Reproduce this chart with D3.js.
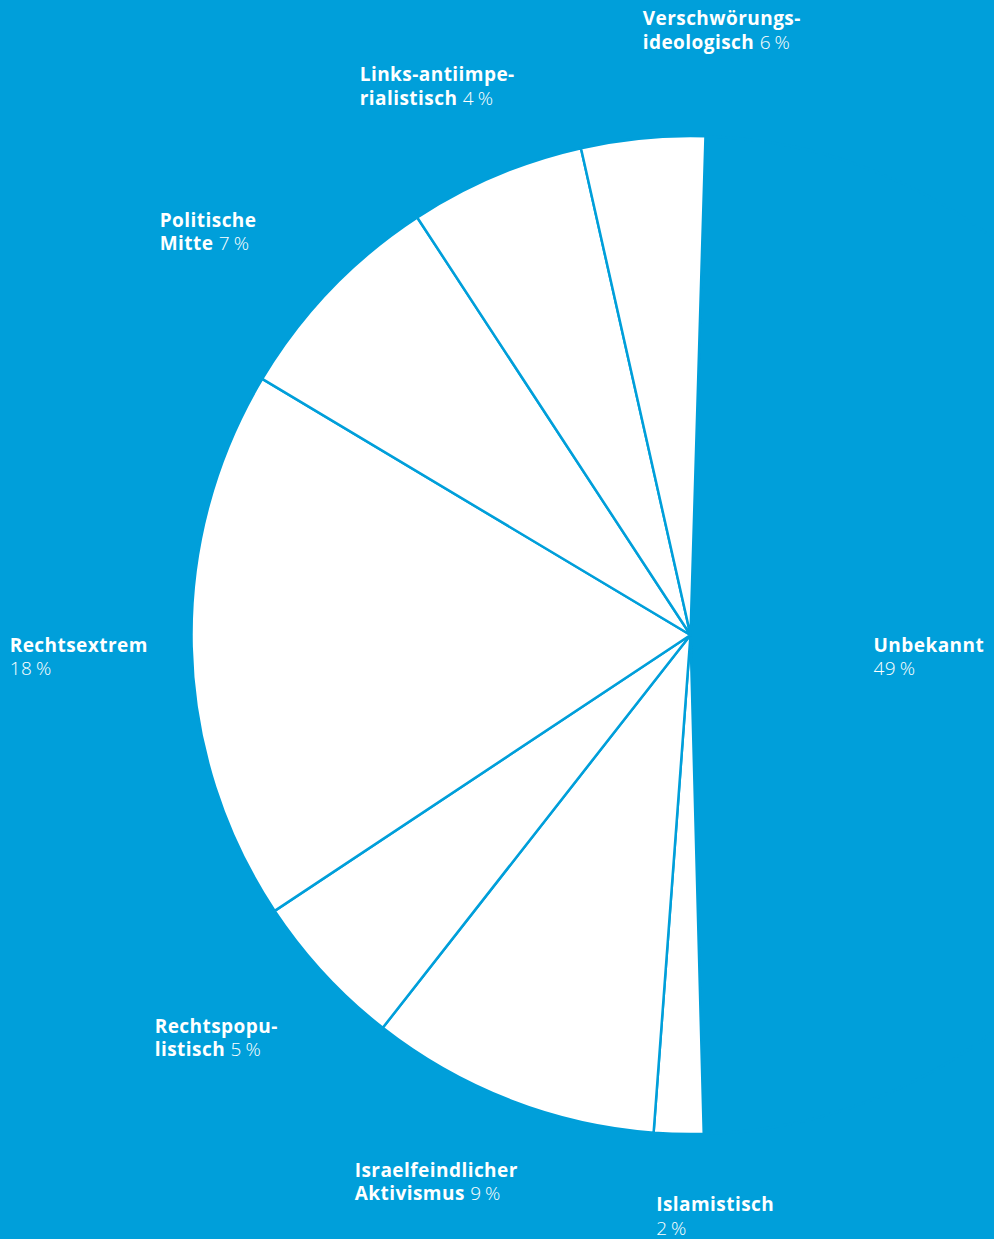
<!DOCTYPE html>
<html>
<head>
<meta charset="utf-8"/>
<title>Pie</title>
<script src="https://d3js.org/d3.v7.min.js"></script>
<style>
  html, body { margin: 0; padding: 0; background: #009fda; }
  text { font-family: "Open Sans", "Noto Sans", sans-serif; fill: #fff; font-size: 19px; letter-spacing: 0.45px; }
  .nm { font-weight: 700; }
  .pc { font-weight: 300; }
</style>
</head>
<body>
<div id="chart"></div>
<script>
// slices in drawing order, clockwise from just right of 12 o'clock
var categories = ["Unbekannt", "Islamistisch", "Israelfeindlicher Aktivismus", "Rechtspopulistisch",
                  "Rechtsextrem", "Politische Mitte", "Links-antiimperialistisch", "Verschwörungsideologisch"];
// arc sizes
var shares = [49.1, 1.6, 9.4, 5.1, 17.9, 7.2, 5.7, 4.0];
// percent values as printed in the labels
var pctLabels = ["49", "2", "9", "5", "18", "7", "4", "6"];
// label text broken the way the picture breaks it
var labelLines = [["Unbekannt"], ["Islamistisch"], ["Israelfeindlicher", "Aktivismus"], ["Rechtspopu-", "listisch"],
                  ["Rechtsextrem"], ["Politische", "Mitte"], ["Links-antiimpe-", "rialistisch"], ["Verschwörungs-", "ideologisch"]];

// layout
var width = 994, height = 1239;
var cx = 690.5, cy = 635, radius = 499;
var startDeg = 1.72;
var blue = "#009fda";
// label anchor (left edge, first baseline) relative to pie centre
var labelOffset = [[183, 16.7], [-34.3, 576.2], [-335.8, 541.7], [-535.8, 397.7],
                   [-680.8, 16.7], [-530.8, -408.3], [-330.8, -554], [-47.8, -610]];
var lineH = 23.5;

var svg = d3.select("#chart").append("svg")
    .attr("width", width)
    .attr("height", height);

svg.append("rect").attr("width", width).attr("height", height).attr("fill", blue);

var start = startDeg * Math.PI / 180;
var pie = d3.pie().sort(null).value(d => d)
    .startAngle(start).endAngle(start + 2 * Math.PI);
var arc = d3.arc().innerRadius(0).outerRadius(radius);

var g = svg.append("g").attr("transform", "translate(" + cx + "," + cy + ")");

g.selectAll("path")
  .data(pie(shares))
  .enter().append("path")
    .attr("d", arc)
    .attr("fill", (d, i) => i === 0 ? blue : "#fff")
    .attr("stroke", blue)
    .attr("stroke-width", 2.5)
    .attr("stroke-linejoin", "round");

// labels, one text element per line
categories.forEach(function(c, i) {
  var x = labelOffset[i][0], y = labelOffset[i][1];
  var lines = labelLines[i];
  lines.forEach(function(l, j) {
    var t = g.append("text").attr("x", x).attr("y", y + j * lineH);
    t.append("tspan").attr("class", "nm").text(l);
    if (j === lines.length - 1 && lines.length > 1)
      t.append("tspan").attr("class", "pc").text("\u00a0" + pctLabels[i] + "\u2009%");
  });
  if (lines.length === 1) {
    g.append("text").attr("class", "pc")
      .attr("x", x).attr("y", y + lineH)
      .text(pctLabels[i] + "\u2009%");
  }
});
</script>
</body>
</html>
